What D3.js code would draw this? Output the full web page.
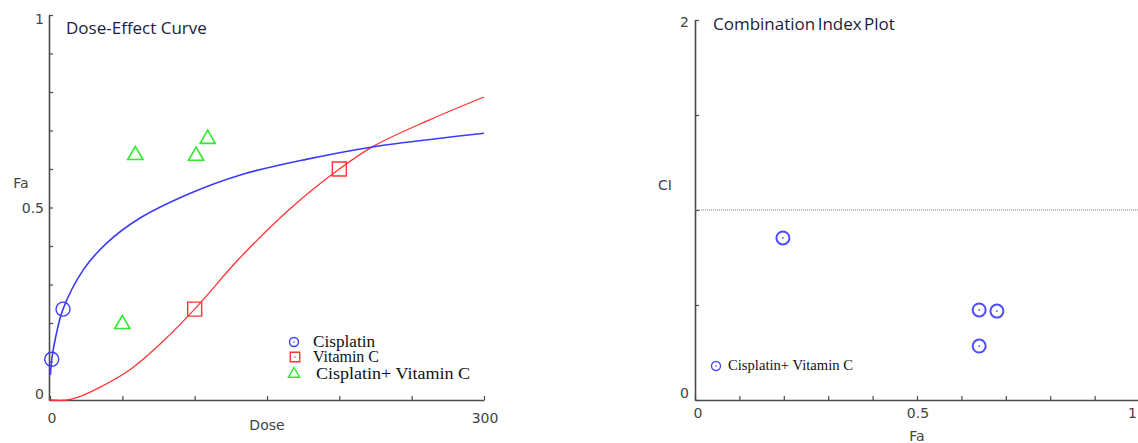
<!DOCTYPE html>
<html>
<head>
<meta charset="utf-8">
<script src="https://cdn.jsdelivr.net/npm/d3@7"></script>
<style>
  body { margin: 0; background: #fff; }
  svg { display: block; }
  .tick-lbl { font-family: "DejaVu Sans", sans-serif; font-size: 14px; fill: #444; }
  .title { font-family: "Open Sans", sans-serif; font-size: 17px; fill: #1c1c3a; }
  .leg { font-family: "Liberation Serif", serif; fill: #111; }
</style>
</head>
<body>
<div id="chart"></div>
<script>
// ---- data ----
// dose-effect curve, fitted lines
var cisCurveDose = [0.3, 1.2, 4, 9, 23, 39, 62, 97, 131, 177, 224, 270, 300];
var cisCurveFa   = [0.065, 0.106, 0.165, 0.236, 0.338, 0.407, 0.472, 0.537, 0.584, 0.625, 0.658, 0.680, 0.693];
var vitCurveDose = [0, 12, 20, 33, 55, 78, 100, 131, 166, 200, 224, 262, 300];
var vitCurveFa   = [0, 0, 0.008, 0.03, 0.078, 0.152, 0.236, 0.368, 0.497, 0.60, 0.66, 0.727, 0.787];

// measured points
var cisDose = [1.2, 9];
var cisFa = [0.106, 0.236];
var vitDose = [100, 200];
var vitFa = [0.236, 0.60];
var comboDose = [50, 59, 101, 109];
var comboFa = [0.197, 0.636, 0.634, 0.678];

// combination index plot
var ciFa = [0.198, 0.64, 0.68, 0.64];
var ciValue = [0.853, 0.474, 0.468, 0.284];

var legendNames = ["Cisplatin", "Vitamin C", "Cisplatin+ Vitamin C"];

var blue = "#3b3bff", red = "#ff3535", green = "#2fe82f";

var svgWidth = 1138, svgHeight = 443;

var svg = d3.select("#chart").append("svg")
  .attr("width", svgWidth)
  .attr("height", svgHeight);

function zip(a, b) { return a.map(function(v, i) { return [v, b[i]]; }); }

function styleAxis(g) {
  g.select(".domain").attr("stroke", "#4a4a4a").attr("stroke-width", 1.6);
  g.selectAll(".tick line").attr("stroke", "#4a4a4a").attr("stroke-width", 1.2);
  g.selectAll(".tick text").remove();
}

/////////// left panel: Dose-Effect Curve ///////////
var x1 = d3.scaleLinear().domain([0, 300]).range([50, 484]);
var y1 = d3.scaleLinear().domain([0, 1]).range([400, 15]);

svg.append("g")
  .attr("transform", "translate(0,400)")
  .call(d3.axisBottom(x1).tickValues(d3.range(0, 301, 50)).tickSizeInner(-4).tickSizeOuter(0))
  .call(styleAxis);

svg.append("g")
  .attr("transform", "translate(49,0)")
  .call(d3.axisLeft(y1).tickValues(d3.range(0, 1.01, 0.1)).tickSizeInner(-4).tickSizeOuter(0))
  .call(styleAxis);

svg.append("g").selectAll("text")
  .data([[1, 19], [0.5, 208], [0, 394]])
  .enter().append("text")
  .attr("class", "tick-lbl")
  .attr("text-anchor", "end")
  .attr("x", 44)
  .attr("y", d => d[1])
  .attr("dy", "0.36em")
  .text(d => d[0]);

svg.append("g").selectAll("text")
  .data([0, 300])
  .enter().append("text")
  .attr("class", "tick-lbl")
  .attr("text-anchor", "middle")
  .attr("x", d => x1(d) + (d === 0 ? 2 : 1))
  .attr("y", 423)
  .text(d => d);

svg.append("text").attr("class", "tick-lbl")
  .attr("x", x1(150)).attr("y", 430).attr("text-anchor", "middle").text("Dose");
svg.append("text").attr("class", "tick-lbl")
  .attr("x", 21).attr("y", 188).attr("text-anchor", "middle").text("Fa");

svg.append("text").attr("class", "title")
  .attr("x", 66).attr("y", 34).text("Dose-Effect Curve");

var line1 = d3.line()
  .x(d => x1(d[0]))
  .y(d => y1(d[1]))
  .curve(d3.curveCatmullRom.alpha(0.5));

svg.append("path")
  .attr("d", line1(zip(vitCurveDose, vitCurveFa)))
  .attr("fill", "none").attr("stroke", red).attr("stroke-width", 1.3);

svg.append("path")
  .attr("d", line1(zip(cisCurveDose, cisCurveFa)))
  .attr("fill", "none").attr("stroke", blue).attr("stroke-width", 1.6);

svg.append("g").selectAll("circle")
  .data(zip(cisDose, cisFa))
  .enter().append("circle")
  .attr("cx", d => x1(d[0])).attr("cy", d => y1(d[1]))
  .attr("r", 7)
  .attr("fill", "none").attr("stroke", blue).attr("stroke-width", 1.4);

svg.append("g").selectAll("path")
  .data(zip(vitDose, vitFa))
  .enter().append("path")
  .attr("d", d3.symbol(d3.symbolSquare, 196))
  .attr("transform", d => `translate(${x1(d[0])},${y1(d[1])})`)
  .attr("fill", "none").attr("stroke", red).attr("stroke-width", 1.4);

svg.append("g").selectAll("path")
  .data(zip(comboDose, comboFa))
  .enter().append("path")
  .attr("d", d3.symbol(d3.symbolTriangle, 100))
  .attr("transform", d => `translate(${x1(d[0])},${y1(d[1])})`)
  .attr("fill", "none").attr("stroke", green).attr("stroke-width", 1.6);

// legend
var leg1 = svg.append("g");
var legY = [342, 357, 374];
leg1.append("circle").attr("cx", 294).attr("cy", legY[0]).attr("r", 4.5)
  .attr("fill", "none").attr("stroke", blue).attr("stroke-width", 1.4);
leg1.append("circle").attr("cx", 294).attr("cy", legY[0]).attr("r", 0.8).attr("fill", blue);
leg1.append("path").attr("d", d3.symbol(d3.symbolSquare, 90))
  .attr("transform", `translate(295,${legY[1]})`)
  .attr("fill", "none").attr("stroke", red).attr("stroke-width", 1.4);
leg1.append("circle").attr("cx", 295).attr("cy", legY[1]).attr("r", 0.8).attr("fill", red);
leg1.append("path").attr("d", d3.symbol(d3.symbolTriangle, 55))
  .attr("transform", `translate(294,${legY[2]})`)
  .attr("fill", "none").attr("stroke", green).attr("stroke-width", 1.4);
var legLen = [62, 66, 154];
leg1.selectAll("text")
  .data(legendNames)
  .enter().append("text")
  .attr("class", "leg")
  .attr("font-size", "16px")
  .attr("x", (d, i) => i === 2 ? 316 : 313)
  .attr("y", (d, i) => legY[i] + 5)
  .attr("textLength", (d, i) => legLen[i])
  .attr("lengthAdjust", "spacingAndGlyphs")
  .text(d => d);

/////////// right panel: Combination Index Plot ///////////
var x2 = d3.scaleLinear().domain([0, 1]).range([695, 1139]);
var y2 = d3.scaleLinear().domain([0, 2]).range([400, 20]);

svg.append("g")
  .attr("transform", "translate(0,400)")
  .call(d3.axisBottom(x2).tickValues(d3.range(0, 1.01, 0.1)).tickSizeInner(-4).tickSizeOuter(0))
  .call(styleAxis);

svg.append("g")
  .attr("transform", "translate(695,0)")
  .call(d3.axisLeft(y2).tickValues(d3.range(0, 2.01, 0.5)).tickSizeInner(-4).tickSizeOuter(0))
  .call(styleAxis);

svg.append("line")
  .attr("x1", x2(0)).attr("x2", svgWidth)
  .attr("y1", y2(1)).attr("y2", y2(1))
  .attr("stroke", "#777").attr("stroke-width", 1)
  .attr("stroke-dasharray", "1,1");

svg.append("g").selectAll("text")
  .data([[2, 22], [0, 393]])
  .enter().append("text")
  .attr("class", "tick-lbl")
  .attr("text-anchor", "end")
  .attr("x", 689)
  .attr("y", d => d[1])
  .attr("dy", "0.36em")
  .text(d => d[0]);

svg.append("g").selectAll("text")
  .data([0, 0.5, 1])
  .enter().append("text")
  .attr("class", "tick-lbl")
  .attr("text-anchor", d => d === 1 ? "end" : "middle")
  .attr("x", d => d === 1 ? svgWidth - 1 : x2(d) + (d === 0 ? 3 : 1))
  .attr("y", 418)
  .text(d => d);

svg.append("text").attr("class", "tick-lbl")
  .attr("x", x2(0.5)).attr("y", 441).attr("text-anchor", "middle").text("Fa");
svg.append("text").attr("class", "tick-lbl")
  .attr("x", 665).attr("y", 190).attr("text-anchor", "middle").text("CI");

svg.append("text").attr("class", "title")
  .attr("x", 713).attr("y", 30).attr("word-spacing", "-2px").text("Combination Index Plot");

var ciPts = svg.append("g").selectAll("g")
  .data(zip(ciFa, ciValue))
  .enter().append("g")
  .attr("transform", d => `translate(${x2(d[0])},${y2(d[1])})`);
ciPts.append("circle").attr("r", 6.5)
  .attr("fill", "none").attr("stroke", "#4d4dff").attr("stroke-width", 2);
ciPts.append("circle").attr("r", 0.9).attr("fill", "#4d4dff");

var leg2 = svg.append("g");
leg2.append("circle").attr("cx", 716).attr("cy", 366).attr("r", 4.5)
  .attr("fill", "none").attr("stroke", "#4d4dff").attr("stroke-width", 1.4);
leg2.append("circle").attr("cx", 716).attr("cy", 366).attr("r", 0.8).attr("fill", "#4d4dff");
leg2.append("text").attr("class", "leg")
  .attr("font-size", "14px")
  .attr("x", 728).attr("y", 370)
  .attr("textLength", 125)
  .attr("lengthAdjust", "spacingAndGlyphs")
  .text(legendNames[2]);
</script>
</body>
</html>
